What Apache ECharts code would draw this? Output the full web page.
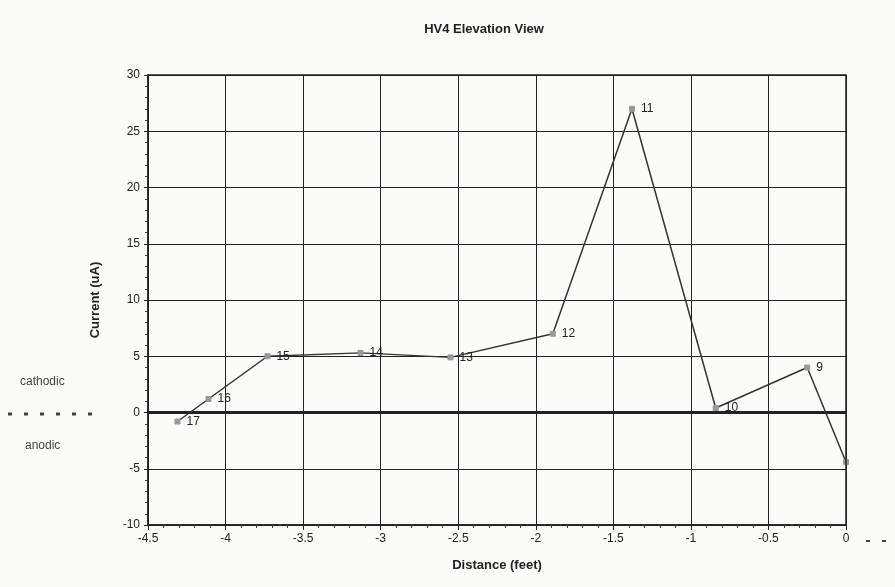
<!DOCTYPE html>
<html><head><meta charset="utf-8">
<script src="https://cdn.jsdelivr.net/npm/echarts@6/dist/echarts.min.js"></script>
<style>html,body{margin:0;padding:0;background:#fbfbf9}#c{width:895px;height:587px}</style>
</head><body><div id="c"></div>
<script>
const distance = [-4.31, -4.11, -3.73, -3.13, -2.55, -1.89, -1.38, -0.84, -0.25, 0];
const current  = [-0.8, 1.2, 5.0, 5.3, 4.9, 7.0, 27.0, 0.4, 4.0, -4.4];
const pointLabels = ['17', '16', '15', '14', '13', '12', '11', '10', '9', ''];

const chart = echarts.init(document.getElementById('c'));
const font = 'Arial, "Liberation Sans", sans-serif';
chart.setOption({
  backgroundColor: '#fbfbf9',
  animation: false,
  title: {text: 'HV4 Elevation View', left: 479, top: 18, textAlign: 'center',
    textStyle: {fontFamily: font, fontSize: 13, fontWeight: 'bold', color: '#222'}},
  grid: {left: 148, right: 49, top: 75, bottom: 62},
  xAxis: {type: 'value', min: -4.5, max: 0, interval: 0.5,
    name: 'Distance (feet)', nameLocation: 'middle', nameGap: 34,
    nameTextStyle: {fontFamily: font, fontSize: 13, fontWeight: 'bold', color: '#222'},
    axisLine: {onZero: false, lineStyle: {color: '#222', width: 1.5}},
    axisTick: {show: true, length: 5, lineStyle: {color: '#222'}},
    minorTick: {show: true, splitNumber: 5, length: 3, lineStyle: {color: '#444'}},
    splitLine: {show: true, lineStyle: {color: '#222', width: 1}},
    axisLabel: {fontFamily: font, fontSize: 12, color: '#222', margin: 8}},
  yAxis: {type: 'value', min: -10, max: 30, interval: 5,
    name: 'Current (uA)', nameLocation: 'middle', nameGap: 46,
    nameTextStyle: {fontFamily: font, fontSize: 13, fontWeight: 'bold', color: '#222'},
    axisLine: {show: true, onZero: false, lineStyle: {color: '#222', width: 1.5}},
    axisTick: {show: true, length: 4, lineStyle: {color: '#222'}},
    minorTick: {show: true, splitNumber: 5, length: 3, lineStyle: {color: '#444'}},
    splitLine: {show: true, lineStyle: {color: '#222', width: 1}},
    axisLabel: {fontFamily: font, fontSize: 12, color: '#222', margin: 8}},
  graphic: [
    {type: 'rect', shape: {x: 148, y: 75, width: 698, height: 450}, style: {fill: 'none', stroke: '#222', lineWidth: 1.5}, z: 100},
    {type: 'text', left: 20, top: 376, style: {text: 'cathodic', font: '12px ' + font, fill: '#444'}},
    {type: 'text', left: 25, top: 440, style: {text: 'anodic', font: '12px ' + font, fill: '#444'}},
    {type: 'line', shape: {x1: 8, y1: 414, x2: 104, y2: 414}, style: {stroke: '#444', lineWidth: 3, lineDash: [4, 12]}},
    {type: 'line', shape: {x1: 866, y1: 541, x2: 892, y2: 541}, style: {stroke: '#444', lineWidth: 2, lineDash: [4, 12]}}
  ],
  series: [
    {type: 'line', data: [[-4.5, 0], [0, 0]], symbol: 'none', silent: true,
      lineStyle: {color: '#222', width: 3}, z: 3},
    {type: 'line', data: distance.map((d, i) => [d, current[i]]),
      symbol: 'rect', symbolSize: 5,
      itemStyle: {color: '#999', borderColor: '#999'},
      lineStyle: {color: '#333', width: 1.5},
      label: {show: true, position: 'right', distance: 6,
        formatter: p => pointLabels[p.dataIndex],
        fontFamily: font, fontSize: 12, color: '#222'},
      z: 5}
  ]
});
</script></body></html>
